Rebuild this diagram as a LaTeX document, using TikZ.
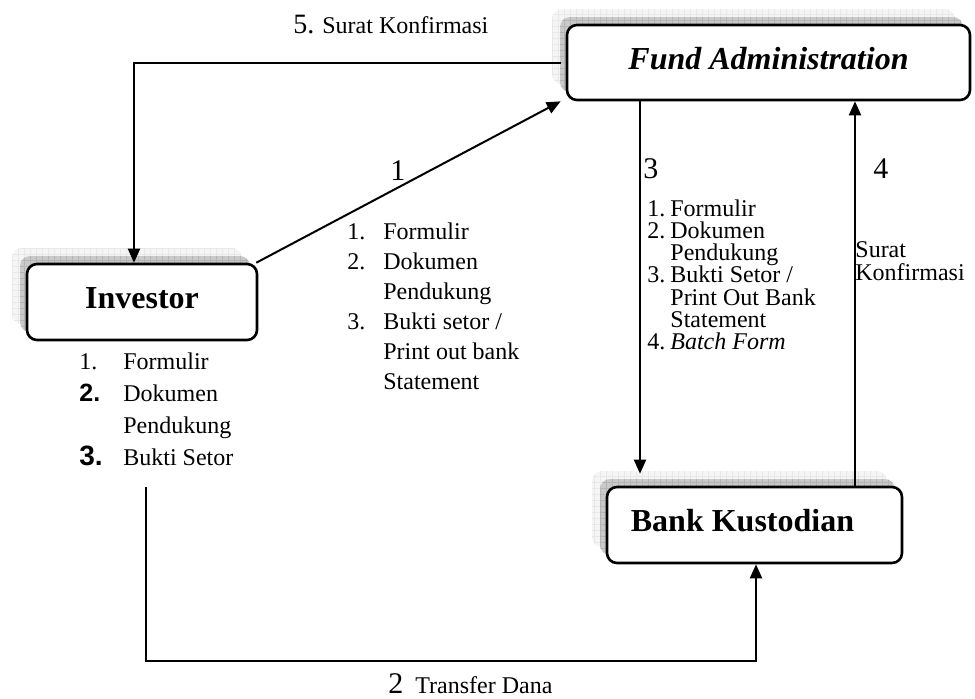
\documentclass[tikz,border=0pt]{standalone}
\usepackage{fontspec}
\setmainfont{Liberation Serif}
\newfontfamily\arialf{Liberation Sans}
\usetikzlibrary{arrows.meta,shadows,patterns}
\newcommand\nb[2]{\makebox[#1][l]{#2}}
\begin{document}
\begin{tikzpicture}[x=0.5pt,y=-0.5pt,
  box/.style={draw, line width=1.3pt, rounded corners=5pt, fill=white, inner sep=0pt,
    text height=10.6pt, text depth=4pt, font=\fontsize{16}{19}\selectfont\bfseries,
    general shadow={fill=gray!8, shadow xshift=-7.5pt, shadow yshift=8pt},
    general shadow={pattern=grid, pattern color=gray!18, shadow xshift=-7.5pt, shadow yshift=8pt},
    general shadow={fill=gray!42, shadow xshift=-3.5pt, shadow yshift=4pt},
    general shadow={pattern=grid, pattern color=gray!58, shadow xshift=-3.5pt, shadow yshift=4pt}},
  conn/.style={line width=1pt},
  arr/.style={conn, -{Triangle[length=7pt,width=6pt]}},
  txt/.style={anchor=base west, inner sep=0pt, font=\fontsize{12}{14}\selectfont},
  num/.style={anchor=base west, inner sep=0pt, font=\fontsize{15}{18}\selectfont}]
\useasboundingbox (0,0) rectangle (975,698);
\fill[white] (0,0) rectangle (975,698);

% boxes
\node[box, minimum width=201.5pt, minimum height=37.5pt, font=\fontsize{16}{19}\selectfont\bfseries\itshape] (fund) at (768.5,62.5) {Fund Administration};
\node[box, minimum width=115pt, minimum height=38pt] (inv) at (142,302) {Investor};
\node[box, minimum width=147.5pt, minimum height=38pt] (bank) at (754.5,525) {Bank Kustodian\kern12pt\relax};

% connector coordinates
\coordinate (c5) at (134,63);
\coordinate (c3) at (640,0);
\coordinate (c4) at (855,0);
\coordinate (c2s) at (146,487);
\coordinate (c2c) at (146,661);
\coordinate (c2e) at (756,661);

% connectors
\draw[arr] ([xshift=-2.5pt]fund.west |- c5) -- (c5) -- (inv.north -| c5);
\draw[arr] ([xshift=-1pt]inv.north east) -- ([xshift=-2.5pt]fund.south west);
\draw[arr, shorten >=6pt] (fund.south -| c3) -- (bank.north -| c3);
\draw[arr] (bank.north -| c4) -- (fund.south -| c4);
\draw[arr] (c2s) -- (c2c) -- (c2e) -- (bank.south -| c2e);

% labels
\node[txt] (l5) at (293,33) {{\fontsize{14}{16}\selectfont 5.} Surat Konfirmasi};
\node[num] (n1) at (390,180) {1};
\node[num] (n3) at (643,178) {3};
\node[num] (n4) at (873,178) {4};
\node[txt] (l2) at (388,693) {{\fontsize{15}{18}\selectfont 2}\hspace{6pt}Transfer Dana};

\node[txt] (list1) at (347,239) {\vtop{\baselineskip=15pt\lineskiplimit=-20pt
  \hbox{\nb{18pt}{1.}Formulir}
  \hbox{\nb{18pt}{2.}Dokumen}
  \hbox{\nb{18pt}{}Pendukung}
  \hbox{\nb{18pt}{3.}Bukti setor /}
  \hbox{\nb{18pt}{}Print out bank}
  \hbox{\nb{18pt}{}Statement}}};

\node[txt] (list3) at (647,216) {\vtop{\baselineskip=11.15pt\lineskiplimit=-20pt
  \hbox{\nb{11.5pt}{1.}Formulir}
  \hbox{\nb{11.5pt}{2.}Dokumen}
  \hbox{\nb{11.5pt}{}Pendukung}
  \hbox{\nb{11.5pt}{3.}Bukti Setor /}
  \hbox{\nb{11.5pt}{}Print Out Bank}
  \hbox{\nb{11.5pt}{}Statement}
  \hbox{\nb{11.5pt}{4.}\textit{Batch Form}}}};

\node[txt] (list4) at (855,257) {\vtop{\baselineskip=11.5pt\lineskiplimit=-20pt
  \hbox{Surat}
  \hbox{Konfirmasi}}};

\node[txt] (listinv) at (79,369) {\vtop{\baselineskip=16pt\lineskiplimit=-20pt
  \hbox{\nb{22pt}{1.}Formulir}
  \hbox{\nb{22pt}{{\arialf\bfseries\fontsize{12.5}{14}\selectfont 2.}}Dokumen}
  \hbox{\nb{22pt}{}Pendukung}
  \hbox{\nb{22pt}{{\arialf\bfseries\fontsize{14}{16}\selectfont 3.}}Bukti Setor}}};
\end{tikzpicture}
\end{document}
